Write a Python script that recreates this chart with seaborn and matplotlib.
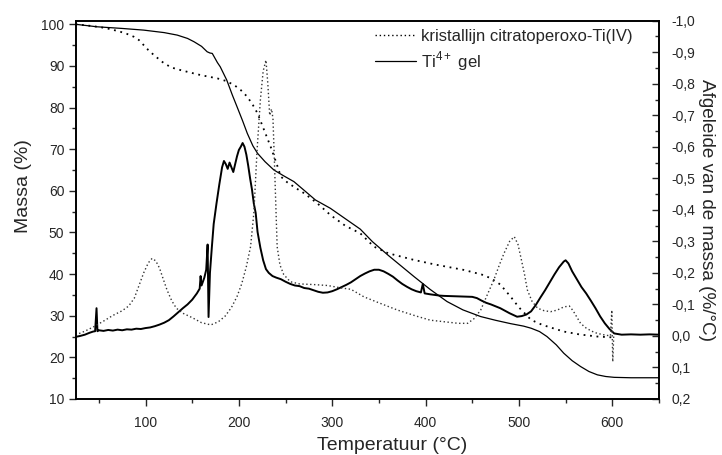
import numpy as np
import pandas as pd
import matplotlib
matplotlib.use("Agg")
import matplotlib.pyplot as plt
import seaborn as sns
from matplotlib.ticker import MultipleLocator, FuncFormatter
from matplotlib.lines import Line2D

# ---------------- data ----------------
# Ti4+ gel : mass (%)
gel_mass_T = [25, 48, 75, 98, 120, 134, 145, 152, 160, 166, 169, 171.5, 174, 177, 180, 187, 193, 198,
              204, 209, 215, 220, 228, 237.5, 248, 259, 270, 282, 298, 314, 330, 343, 360, 387.6, 405,
              423, 440, 459, 475, 491, 505, 513, 522, 530, 540, 548, 557, 566, 575, 584, 593, 602, 620, 650]
gel_mass = [100, 99.4, 99.0, 98.6, 98.0, 97.4, 96.6, 95.8, 94.7, 93.4, 93.1, 93.0, 92.0, 90.8, 89.8, 86.6,
            83.0, 80.2, 76.8, 73.8, 70.8, 69.0, 67.0, 65.0, 63.6, 62.2, 60.1, 57.8, 55.8, 53.3, 50.8, 47.8,
            44.5, 39.4, 36.3, 33.4, 31.4, 29.8, 28.9, 28.1, 27.5, 27.0, 26.2, 25.0, 23.0, 21.0, 19.2, 17.8,
            16.6, 15.8, 15.4, 15.2, 15.1, 15.1]

# kristallijn citratoperoxo-Ti(IV) : mass (%)
cry_mass_T = [25, 38, 52, 63, 73, 80, 87.5, 93, 98, 103, 109, 115, 120, 128, 137.5, 148, 159, 168, 177,
              186, 195, 202, 209, 215, 220, 227, 234, 240, 245, 252, 260, 270, 284, 298, 314, 330, 344.6,
              360, 387.6, 410, 441, 460, 470, 480, 491, 500, 513, 525, 535, 548, 565, 584, 600]
cry_mass = [100, 99.7, 99.3, 98.8, 98.2, 97.7, 97.0, 96.2, 95.0, 93.8, 92.6, 91.5, 90.6, 89.6, 89.0, 88.4,
            87.8, 87.4, 87.0, 86.4, 85.4, 84.2, 82.6, 80.6, 78.6, 74.6, 70.6, 66.8, 63.4, 62.0, 60.8, 59.4,
            57.0, 54.2, 51.6, 49.8, 46.6, 45.0, 43.4, 42.3, 41.0, 39.9, 39.0, 37.5, 34.6, 32.0, 29.0, 27.8,
            27.1, 26.2, 25.5, 25.0, 24.8]

# Ti4+ gel : derivative (%/°C)
gel_der_T = [25, 30, 35, 40, 44, 46, 47.5, 48.5, 50, 55, 60, 65, 70, 75, 80, 85, 90, 95, 100, 105, 110,
             115, 120, 125, 130, 135, 140, 145, 150, 155, 158, 159, 160, 163, 165, 166.5, 167.5, 169, 171,
             173, 176, 179, 182, 184, 186, 188, 190, 192, 194, 196, 198, 200, 202, 204, 206, 208, 210, 212,
             214, 216, 218, 220, 223, 226, 229, 232, 236, 240, 245, 250, 255, 260, 265, 270, 275, 280, 285,
             290, 295, 300, 305, 310, 315, 320, 325, 330, 335, 340, 345, 350, 355, 360, 365, 370, 375, 380,
             385, 390, 395, 397, 399, 405, 410, 415, 420, 430, 440, 450, 455, 460, 465, 470, 475, 480, 485,
             490, 495, 498, 503, 508, 513, 518, 523, 528, 533, 538, 543, 548, 550, 553, 557, 562, 567, 572,
             577, 582, 587, 592, 597, 602, 610, 620, 630, 640, 650]
gel_der = [0.003, 0.000, -0.004, -0.010, -0.014, -0.015, -0.088, -0.015, -0.018, -0.016, -0.019, -0.017,
           -0.020, -0.018, -0.021, -0.020, -0.023, -0.022, -0.025, -0.027, -0.031, -0.036, -0.042, -0.050,
           -0.062, -0.075, -0.088, -0.100, -0.115, -0.135, -0.150, -0.190, -0.160, -0.185, -0.210, -0.290,
           -0.060, -0.200, -0.280, -0.355, -0.420, -0.480, -0.535, -0.555, -0.545, -0.530, -0.550, -0.535,
           -0.520, -0.545, -0.570, -0.590, -0.600, -0.612, -0.600, -0.575, -0.540, -0.500, -0.465, -0.420,
           -0.390, -0.330, -0.280, -0.240, -0.212, -0.200, -0.190, -0.185, -0.180, -0.172, -0.165, -0.160,
           -0.158, -0.152, -0.150, -0.145, -0.140, -0.137, -0.138, -0.142, -0.148, -0.155, -0.162, -0.170,
           -0.180, -0.190, -0.198, -0.205, -0.210, -0.210, -0.205, -0.197, -0.188, -0.176, -0.165, -0.156,
           -0.148, -0.142, -0.138, -0.165, -0.135, -0.132, -0.130, -0.128, -0.127, -0.126, -0.125, -0.124,
           -0.120, -0.112, -0.105, -0.100, -0.094, -0.088, -0.080, -0.072, -0.065, -0.061, -0.063, -0.068,
           -0.078, -0.098, -0.122, -0.145, -0.170, -0.195, -0.218, -0.236, -0.240, -0.230, -0.205, -0.180,
           -0.155, -0.135, -0.112, -0.088, -0.062, -0.040, -0.022, -0.008, -0.004, -0.005, -0.004, -0.005,
           -0.004]

# kristallijn citratoperoxo-Ti(IV) : derivative (%/°C)
cry_der_T = [25, 35, 45, 55, 65, 75, 82, 88, 93, 98, 103, 107, 111, 115, 119, 123, 128, 133, 140, 150, 160,
             170, 178, 185, 192, 198, 203, 208, 212.5, 216, 219.5, 223, 226, 229, 231, 233, 235, 236.5, 238,
             239.5, 241, 244, 248, 255, 265, 280, 295, 310, 320, 334, 350, 370, 390, 405, 420, 435, 445, 452,
             459, 466, 473, 479, 484, 490, 495, 499, 502, 506, 509, 514, 520, 527, 534, 541, 548, 554, 558,
             562, 566, 572, 578, 584, 592, 598, 599.5, 600.5, 601.5]
cry_der = [-0.003, -0.015, -0.030, -0.047, -0.065, -0.080, -0.095, -0.120, -0.160, -0.200, -0.232, -0.246,
           -0.238, -0.215, -0.180, -0.146, -0.112, -0.088, -0.072, -0.058, -0.042, -0.035, -0.045, -0.062,
           -0.090, -0.125, -0.165, -0.220, -0.283, -0.389, -0.590, -0.748, -0.840, -0.875, -0.800, -0.700,
           -0.720, -0.690, -0.560, -0.420, -0.283, -0.225, -0.195, -0.172, -0.165, -0.163, -0.160, -0.152,
           -0.148, -0.124, -0.105, -0.082, -0.063, -0.050, -0.045, -0.040, -0.040, -0.055, -0.082, -0.130,
           -0.177, -0.225, -0.262, -0.300, -0.315, -0.290, -0.250, -0.195, -0.146, -0.110, -0.088, -0.080,
           -0.077, -0.082, -0.092, -0.095, -0.080, -0.060, -0.040, -0.025, -0.015, -0.008, -0.003, 0.000,
           -0.082, 0.082, 0.000]

legend_labels = ["kristallijn citratoperoxo-Ti(IV)", "Ti$^{4+}$ gel"]

# ---------------- plotting ----------------
sns.set_style("ticks")
plt.rcParams["font.family"] = ["Liberation Sans", "DejaVu Sans"]
plt.rcParams["mathtext.fontset"] = "custom"
plt.rcParams["mathtext.rm"] = "Liberation Sans"

fig = plt.figure(figsize=(7.22, 4.55), dpi=100)
ax = fig.add_axes([0.1046, 0.1231, 0.8081, 0.8314])
ax2 = ax.twinx()

sns.lineplot(x=gel_mass_T, y=gel_mass, ax=ax, color="black", lw=0.9, sort=False, estimator=None)
sns.lineplot(x=cry_mass_T, y=cry_mass, ax=ax, color="black", lw=1.3, linestyle=(0, (1, 2.6)),
             sort=False, estimator=None)
sns.lineplot(x=gel_der_T, y=gel_der, ax=ax2, color="black", lw=1.4, sort=False, estimator=None)
sns.lineplot(x=cry_der_T, y=cry_der, ax=ax2, color="#333333", lw=1.0, linestyle=(0, (1, 1.8)),
             sort=False, estimator=None)

ax.set_xlim(25, 650)
ax.set_ylim(10, 100.86)
ax2.set_ylim(0.2, -1.0)

ax.xaxis.set_major_locator(MultipleLocator(100))
ax.xaxis.set_minor_locator(MultipleLocator(50))
ax.yaxis.set_major_locator(MultipleLocator(10))
ax.yaxis.set_minor_locator(MultipleLocator(5))
ax2.yaxis.set_major_locator(MultipleLocator(0.1))
ax2.yaxis.set_minor_locator(MultipleLocator(0.05))


def comma_fmt(v, pos):
    if abs(v) < 1e-9:
        return "0,0"
    return f"{v:.1f}".replace(".", ",")


ax2.yaxis.set_major_formatter(FuncFormatter(comma_fmt))

ax.tick_params(axis="both", which="major", direction="out", length=5, width=1, labelsize=10, pad=3,
               top=False, right=False)
ax.tick_params(axis="x", which="major", pad=7)
ax.tick_params(axis="both", which="minor", direction="out", length=3, width=1, top=False, right=False)
ax2.tick_params(axis="y", which="major", direction="in", length=5, width=1, labelsize=10, pad=9)
ax2.tick_params(axis="y", which="minor", direction="in", length=3, width=1)

for a in (ax, ax2):
    for s in a.spines.values():
        s.set_linewidth(1.2)
        s.set_color("black")

ax.set_xlabel("Temperatuur (°C)", fontsize=14)
ax.xaxis.set_label_coords(0.5424, -0.10)
ax.set_ylabel("Massa (%)", fontsize=14)
ax.yaxis.set_label_coords(-0.0746, 0.562)
ax2.set_ylabel("Afgeleide van de massa (%/°C)", fontsize=13.6, rotation=270, labelpad=14)

handles = [Line2D([], [], color="black", lw=1.0, linestyle=(0, (1, 2))),
           Line2D([], [], color="black", lw=0.9)]
ax2.legend(handles, legend_labels, loc="upper left", bbox_to_anchor=(0.513, 0.978), frameon=False,
           fontsize=12, handlelength=2.5, handletextpad=0.3, labelspacing=0.3, borderaxespad=0,
           borderpad=0)

fig.savefig("out.png", dpi=100)
